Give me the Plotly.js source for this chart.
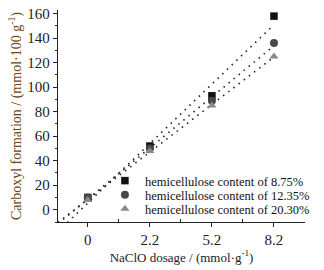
<!DOCTYPE html>
<html>
<head>
<meta charset="utf-8">
<script src="https://cdn.plot.ly/plotly-3.0.1.min.js"></script>
<style>html,body{margin:0;padding:0;background:#fff;}#chart{width:324px;height:270px;}</style>
</head>
<body>
<div id="chart"></div>
<script>
const categories = ["0", "2.2", "5.2", "8.2"];
const seriesNames = ["hemicellulose content of 8.75%", "hemicellulose content of 12.35%", "hemicellulose content of 20.30%"];
const hemi875 = [10, 52, 93, 158];
const hemi1235 = [10, 50, 89, 136];
const hemi2030 = [8, 48, 85, 125];

const seriesValues = [hemi875, hemi1235, hemi2030];
const symbols = ["square", "circle", "triangle-up"];
const colors = ["#111111", "#484848", "#8a8a8a"];
const sizes = [7.5, 8, 8];
const legendIds = ["legend", "legend2", "legend3"];
const xpos = categories.map((c, i) => i + 1);
const xMin = 0.52, xMax = 4.5;
const SERIF = '"Liberation Serif", "Times New Roman", serif';

function fit(xs, ys) {
  const n = xs.length;
  const mx = xs.reduce((a, b) => a + b, 0) / n;
  const my = ys.reduce((a, b) => a + b, 0) / n;
  let sxy = 0, sxx = 0;
  for (let i = 0; i < n; i++) { sxy += (xs[i] - mx) * (ys[i] - my); sxx += (xs[i] - mx) ** 2; }
  const m = sxy / sxx;
  return [m, my - m * mx];
}

const traces = [];
seriesValues.forEach((ys, k) => {
  const [m, b] = fit(xpos, ys);
  const x0 = xMin, x1 = xpos[xpos.length - 1];
  traces.push({
    x: [x0, x1], y: [m * x0 + b, m * x1 + b],
    mode: "lines", type: "scatter", showlegend: false, hoverinfo: "skip",
    line: {color: "#222", width: 1.6, dash: "1.5px,5px"}
  });
});
seriesValues.forEach((ys, k) => {
  traces.push({
    x: xpos, y: ys, name: seriesNames[k], legend: legendIds[k],
    mode: "markers", type: "scatter",
    marker: {symbol: symbols[k], color: colors[k], size: sizes[k]},
    cliponaxis: false
  });
});

function legendAt(yc) {
  return {
    x: 0.19, y: (222 - yc) / 212, xanchor: "left", yanchor: "middle",
    font: {family: SERIF, size: 12.5, color: "#111"}, bgcolor: "rgba(0,0,0,0)",
    itemwidth: 30
  };
}

const layout = {
  width: 324, height: 270,
  margin: {l: 58, r: 19, t: 10, b: 48, autoexpand: false},
  paper_bgcolor: "#fff", plot_bgcolor: "#fff",
  font: {family: SERIF, color: "#222"},
  showlegend: true,
  legend: legendAt(181),
  legend2: legendAt(195),
  legend3: legendAt(209),
  xaxis: {
    range: [xMin, xMax], tickvals: xpos, ticktext: categories,
    showgrid: false, zeroline: false, showline: true, linecolor: "#222", linewidth: 1.3,
    ticks: "outside", ticklen: 4, tickcolor: "#222",
    minor: {tickvals: [1.5, 2.5, 3.5], ticks: "inside", ticklen: 3, tickcolor: "#222", showgrid: false},
    tickfont: {family: SERIF, size: 15, color: "#222"},
    automargin: false,
    title: {text: "NaClO dosage / (mmol·g<sup>-1</sup>)", font: {family: SERIF, size: 13, color: "#222"}, standoff: 4}
  },
  yaxis: {
    range: [-10, 163], tickvals: [0, 20, 40, 60, 80, 100, 120, 140, 160],
    showgrid: false, zeroline: false, showline: true, linecolor: "#222", linewidth: 1.3,
    ticks: "outside", ticklen: 4, tickcolor: "#222",
    minor: {dtick: 10, ticks: "outside", ticklen: 2, tickcolor: "#222", showgrid: false},
    tickfont: {family: SERIF, size: 15, color: "#222"},
    automargin: false,
    title: {text: "Carboxyl formation / (mmol·100 g<sup>-1</sup>)", font: {family: SERIF, size: 14, color: "#6e4612"}, standoff: 2}
  }
};

Plotly.newPlot("chart", traces, layout, {displayModeBar: false, staticPlot: true});
</script>
</body>
</html>
